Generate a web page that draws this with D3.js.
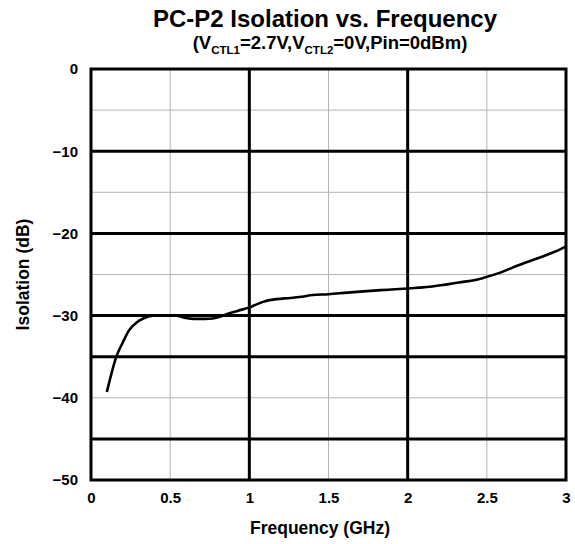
<!DOCTYPE html>
<html>
<head>
<meta charset="utf-8">
<script src="https://cdn.jsdelivr.net/npm/d3@7"></script>
<style>
  body { margin: 0; background: #fff; }
  text { font-family: "Liberation Sans", Arial, sans-serif; font-weight: bold; fill: #000; }
</style>
</head>
<body>
<div class="canvas"></div>
<script>
// settings
const svgWidth = 575
const svgHeight = 544
const margin = {top: 69, bottom: 64, left: 91, right: 9}

// data
const freqGHz = [0.10, 0.13, 0.16, 0.20, 0.24, 0.29, 0.33, 0.39, 0.45, 0.50, 0.55, 0.60, 0.65, 0.72, 0.77, 0.82, 0.86, 0.93, 1.00, 1.05, 1.09, 1.17, 1.26, 1.33, 1.40, 1.50, 1.62, 1.72, 1.83, 1.92, 2.00, 2.07, 2.14, 2.25, 2.35, 2.42, 2.48, 2.58, 2.67, 2.75, 2.84, 2.92, 3.00]
const isolationDb = [-39.3, -37.0, -35.0, -33.3, -31.8, -30.8, -30.35, -30.0, -29.95, -29.95, -30.05, -30.3, -30.4, -30.4, -30.35, -30.1, -29.8, -29.4, -29.0, -28.6, -28.3, -28.0, -27.85, -27.7, -27.5, -27.4, -27.2, -27.05, -26.9, -26.8, -26.7, -26.6, -26.5, -26.2, -25.9, -25.7, -25.4, -24.8, -24.1, -23.5, -22.9, -22.3, -21.6]

const xTicks = [0, 0.5, 1, 1.5, 2, 2.5, 3]
const xTickLabels = ["0", "0.5", "1", "1.5", "2", "2.5", "3"]
const yTicks = [0, -10, -20, -30, -40, -50]
const xMajorGrid = [1, 2]
const xMinorGrid = [0.5, 1.5, 2.5]
const yMajorGrid = [-10, -20, -30, -35, -45]
const yMinorGrid = [-5, -15, -25, -40]

const titleText = "PC-P2 Isolation vs. Frequency"
const xTitle = "Frequency (GHz)"
const yTitle = "Isolation (dB)"

// add svg to page
const svg = d3.select(".canvas")
    .append("svg")
    .attr("width", svgWidth)
    .attr("height", svgHeight)

const w = svgWidth - margin.left - margin.right
const h = svgHeight - margin.top - margin.bottom

const graph = svg.append("g")
    .attr("transform", `translate(${margin.left}, ${margin.top})`)

const x = d3.scaleLinear().domain([0, 3]).range([0, w])
const y = d3.scaleLinear().domain([-50, 0]).range([h, 0])

// minor grid (thin grey)
graph.selectAll(".xminor").data(xMinorGrid).enter().append("line")
    .attr("x1", d => x(d)).attr("x2", d => x(d))
    .attr("y1", 0).attr("y2", h)
    .attr("stroke", "#b4b4b4").attr("stroke-width", 1)

graph.selectAll(".yminor").data(yMinorGrid).enter().append("line")
    .attr("x1", 0).attr("x2", w)
    .attr("y1", d => y(d)).attr("y2", d => y(d))
    .attr("stroke", "#b4b4b4").attr("stroke-width", 1)

// major grid (thick black)
graph.selectAll(".xmajor").data(xMajorGrid).enter().append("line")
    .attr("x1", d => x(d)).attr("x2", d => x(d))
    .attr("y1", 0).attr("y2", h)
    .attr("stroke", "#000").attr("stroke-width", 3)

graph.selectAll(".ymajor").data(yMajorGrid).enter().append("line")
    .attr("x1", 0).attr("x2", w)
    .attr("y1", d => y(d)).attr("y2", d => y(d))
    .attr("stroke", "#000").attr("stroke-width", 3)

// frame
graph.append("rect")
    .attr("x", 0).attr("y", 0)
    .attr("width", w).attr("height", h)
    .attr("fill", "none")
    .attr("stroke", "#000")
    .attr("stroke-width", 3)

// axes (labels only)
const xAxis = d3.axisBottom(x)
    .tickValues(xTicks)
    .tickFormat((d, i) => xTickLabels[i])
    .tickSize(0)
    .tickPadding(12)

const yAxis = d3.axisLeft(y)
    .tickValues(yTicks)
    .tickFormat(d3.format("d"))
    .tickSize(0)
    .tickPadding(13)

const gx = graph.append("g").attr("transform", `translate(0, ${h})`).call(xAxis)
const gy = graph.append("g").call(yAxis)

gx.select(".domain").remove()
gy.select(".domain").remove()
svg.selectAll(".tick text")
    .attr("font-family", "Liberation Sans, Arial, sans-serif")
    .attr("font-weight", "bold")
    .attr("font-size", 15)
    .attr("fill", "#000")

// curve
const line = d3.line()
    .x((d, i) => x(freqGHz[i]))
    .y(d => y(d))
    .curve(d3.curveMonotoneX)

graph.append("path")
    .datum(isolationDb)
    .attr("d", line)
    .attr("fill", "none")
    .attr("stroke", "#000")
    .attr("stroke-width", 2.6)
    .attr("stroke-linejoin", "round")

// titles
svg.append("text")
    .attr("x", 325).attr("y", 27)
    .attr("text-anchor", "middle")
    .attr("font-size", 24)
    .text(titleText)

const sub = svg.append("text")
    .attr("x", 330).attr("y", 49)
    .attr("text-anchor", "middle")
    .attr("font-size", 18.5)

sub.append("tspan").text("(V")
sub.append("tspan").attr("font-size", 11.5).attr("dy", 5).text("CTL1")
sub.append("tspan").attr("dy", -5).text("=2.7V,V")
sub.append("tspan").attr("font-size", 11.5).attr("dy", 5).text("CTL2")
sub.append("tspan").attr("dy", -5).text("=0V,Pin=0dBm)")

svg.append("text")
    .attr("x", 320).attr("y", 534)
    .attr("text-anchor", "middle")
    .attr("font-size", 17.5)
    .text(xTitle)

svg.append("text")
    .attr("transform", `translate(29, ${margin.top + h / 2}) rotate(-90)`)
    .attr("text-anchor", "middle")
    .attr("font-size", 17.5)
    .text(yTitle)
</script>
</body>
</html>
